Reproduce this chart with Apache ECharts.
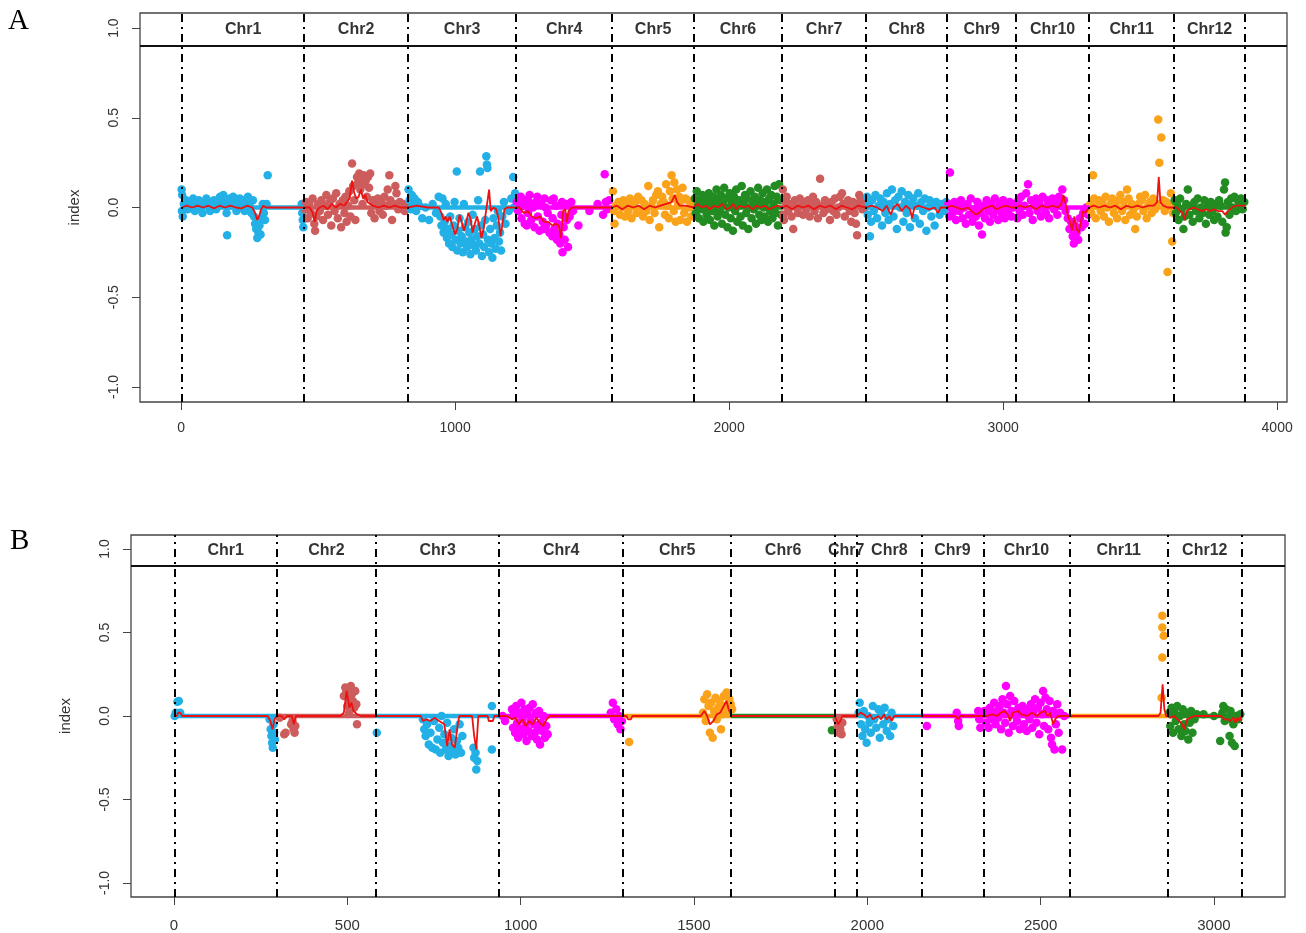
<!DOCTYPE html>
<html><head><meta charset="utf-8">
<script src="https://cdn.jsdelivr.net/npm/echarts@6/dist/echarts.min.js"></script>
<style>html,body{margin:0;padding:0;background:#fff}#c{width:1306px;height:933px}</style>
</head><body><div id="c"></div>
<script>
const chrNames = ['Chr1','Chr2','Chr3','Chr4','Chr5','Chr6','Chr7','Chr8','Chr9','Chr10','Chr11','Chr12'];
const chrColors = ['#22B0E6','#CD5C5C','#22B0E6','#FF00FF','#FAA21A','#228B22','#CD5C5C','#22B0E6','#FF00FF','#FF00FF','#FAA21A','#228B22'];
const boundsA = [4,449,828,1223,1573,1872,2193,2500,2796,3047,3314,3624,3883];
const boundsB = [1,297,583,938,1296,1607,1907,1971,2156,2335,2583,2868,3079];
const xTicksA = [0,1000,2000,3000,4000];
const xTicksB = [0,500,1000,1500,2000,2500,3000];
const yTicks = [-1,-0.5,0,0.5,1];
const headerLevel = 0.9;
const labelLevel = 0.99;

// ---------- Panel A points ----------
const ptsA1 = [[2,0.10],[4,0.07],[3,-0.02],[6,-0.05],[10,0.02],[18,0.04],[24,-0.01],[30,0.03],[38,0.01],[44,0.05],[50,-0.02],[58,0.03],[64,0.04],[70,0.0],[78,-0.03],[84,0.02],[92,0.05],[98,0.01],[106,-0.02],[112,0.03],[120,0.04],[128,-0.01],[134,0.02],[142,0.06],[148,0.04],[154,0.07],[160,0.02],[166,-0.03],[168,-0.155],[172,0.03],[178,0.05],[184,0.01],[190,0.06],[196,0.02],[202,-0.02],[208,0.03],[214,0.05],[220,0.0],[226,0.04],[232,-0.02],[238,0.02],[244,0.06],[250,0.01],[256,-0.03],[262,0.04],[266,-0.05],[270,-0.09],[274,-0.12],[278,-0.17],[282,-0.14],[286,-0.1],[290,-0.15],[294,-0.06],[298,0.02],[302,-0.03],[306,-0.07],[312,0.02],[316,0.18],[440,0.02],[442,-0.03],[444,-0.07],[446,-0.11]];
const ptsA2 = [[452,-0.01],[456,0.03],[462,-0.06],[468,0.02],[474,-0.03],[480,0.05],[486,-0.09],[489,-0.13],[494,-0.05],[500,0.02],[506,-0.02],[512,0.04],[518,-0.07],[524,0.01],[530,0.07],[536,-0.04],[542,0.03],[548,-0.1],[554,0.05],[560,-0.02],[566,0.08],[572,-0.06],[578,0.02],[584,-0.11],[590,0.04],[596,-0.03],[600,0.06],[604,-0.08],[610,0.01],[614,0.09],[618,-0.05],[624,0.245],[628,0.12],[632,0.04],[636,-0.07],[642,0.17],[646,0.14],[650,0.19],[654,0.1],[658,0.16],[662,0.02],[666,0.18],[670,0.13],[674,0.15],[678,0.06],[682,0.17],[686,0.11],[690,0.19],[694,-0.03],[700,0.04],[706,-0.06],[712,0.02],[718,0.05],[724,-0.02],[730,0.03],[736,-0.04],[742,0.06],[748,0.01],[754,0.1],[760,0.18],[764,0.04],[770,-0.07],[776,0.02],[782,0.12],[786,0.08],[792,-0.01],[798,0.03],[804,0.0],[810,0.02],[816,-0.02],[822,0.01]];
const ptsA3 = [[830,0.1],[834,0.04],[838,-0.01],[842,0.07],[846,0.02],[852,0.05],[858,-0.02],[864,0.03],[870,0.01],[880,-0.06],[892,0.0],[905,-0.07],[918,0.02],[930,-0.03],[940,0.06],[946,-0.05],[950,-0.1],[954,0.05],[958,-0.14],[962,-0.08],[966,0.02],[970,-0.17],[974,-0.12],[978,-0.2],[982,-0.05],[986,-0.15],[990,-0.22],[994,-0.1],[998,0.03],[1002,-0.18],[1006,0.2],[1008,-0.24],[1012,-0.13],[1016,-0.06],[1020,-0.2],[1024,-0.16],[1028,-0.25],[1032,0.02],[1036,-0.11],[1040,-0.19],[1044,-0.22],[1048,-0.08],[1052,-0.14],[1056,-0.26],[1060,-0.18],[1064,-0.04],[1068,-0.21],[1072,-0.12],[1076,-0.24],[1080,-0.16],[1084,0.04],[1088,-0.2],[1091,0.2],[1094,-0.1],[1098,-0.27],[1102,-0.15],[1106,-0.22],[1110,-0.07],[1114,0.285],[1116,0.24],[1118,0.22],[1120,-0.18],[1124,-0.25],[1128,-0.12],[1132,-0.2],[1136,-0.28],[1140,-0.06],[1144,-0.17],[1148,-0.23],[1152,-0.1],[1156,-0.02],[1160,-0.19],[1164,-0.14],[1168,-0.24],[1172,-0.05],[1178,0.03],[1184,-0.09],[1196,-0.02],[1205,0.05],[1212,0.17],[1215,0.0],[1219,0.08]];
const ptsA4 = [[1225,0.03],[1230,-0.02],[1236,0.05],[1240,0.06],[1242,-0.06],[1248,0.01],[1254,-0.09],[1260,0.04],[1262,-0.1],[1266,-0.03],[1270,0.03],[1272,0.07],[1278,-0.07],[1284,0.0],[1290,-0.11],[1296,0.03],[1300,0.06],[1302,-0.05],[1308,-0.13],[1314,0.02],[1320,-0.08],[1322,-0.12],[1326,0.05],[1330,0.0],[1332,-0.1],[1338,-0.03],[1344,-0.14],[1350,0.04],[1355,-0.16],[1356,-0.06],[1360,0.05],[1362,-0.12],[1368,0.01],[1372,-0.18],[1374,-0.09],[1380,-0.15],[1384,-0.2],[1388,-0.04],[1390,0.03],[1392,-0.25],[1396,-0.11],[1400,-0.18],[1404,0.02],[1408,-0.07],[1412,-0.22],[1418,-0.05],[1424,0.03],[1430,-0.02],[1450,-0.1],[1490,-0.02],[1520,0.02],[1540,-0.04],[1546,0.185],[1550,0.03],[1555,-0.01],[1562,0.04]];
const ptsA5 = [[1576,0.09],[1580,-0.02],[1582,-0.09],[1586,0.01],[1596,0.03],[1602,-0.04],[1608,0.0],[1614,0.04],[1620,-0.05],[1626,0.02],[1632,-0.02],[1638,0.05],[1644,-0.06],[1650,0.01],[1656,0.03],[1662,-0.03],[1668,0.06],[1674,-0.01],[1680,0.04],[1686,-0.05],[1692,0.02],[1698,-0.02],[1705,0.12],[1710,-0.07],[1716,0.01],[1722,0.04],[1728,-0.03],[1734,0.07],[1740,0.09],[1745,-0.11],[1750,0.02],[1756,0.06],[1762,0.03],[1766,-0.04],[1770,0.13],[1776,0.01],[1780,-0.06],[1784,0.09],[1790,0.18],[1794,0.05],[1798,-0.02],[1800,0.14],[1805,-0.08],[1810,0.1],[1814,0.02],[1818,0.06],[1822,-0.07],[1826,0.04],[1830,0.11],[1836,-0.03],[1840,0.05],[1846,-0.08],[1850,0.04],[1856,0.0],[1862,-0.05],[1868,0.02]];
const ptsA6 = [[1875,0.05],[1878,-0.03],[1882,0.09],[1886,0.01],[1890,-0.06],[1894,0.04],[1898,-0.01],[1902,0.07],[1906,-0.08],[1910,0.02],[1914,0.05],[1918,-0.04],[1922,0.0],[1926,0.08],[1930,-0.07],[1934,0.03],[1938,-0.02],[1942,0.06],[1946,-0.1],[1950,0.01],[1954,0.1],[1958,-0.05],[1962,0.04],[1966,-0.02],[1970,0.07],[1974,-0.09],[1978,0.02],[1982,0.11],[1986,-0.04],[1990,0.05],[1994,-0.11],[1998,0.0],[2002,0.08],[2006,-0.06],[2010,0.03],[2014,-0.13],[2018,0.06],[2022,-0.02],[2026,0.1],[2030,-0.08],[2034,0.01],[2038,0.04],[2042,-0.05],[2046,0.12],[2050,-0.1],[2054,0.02],[2058,0.07],[2062,-0.03],[2066,0.05],[2070,-0.12],[2074,0.0],[2078,0.09],[2082,-0.06],[2086,0.03],[2090,-0.01],[2094,0.06],[2098,-0.09],[2102,0.02],[2106,0.11],[2110,-0.04],[2114,0.04],[2118,-0.07],[2122,0.08],[2126,0.0],[2130,-0.05],[2134,0.03],[2138,0.1],[2142,-0.08],[2146,0.05],[2150,-0.02],[2154,0.07],[2158,-0.06],[2162,0.02],[2166,0.12],[2170,-0.03],[2174,0.06],[2178,-0.1],[2182,0.13],[2186,0.04],[2190,-0.04]];
const ptsA7 = [[2196,0.1],[2198,-0.04],[2200,-0.07],[2204,0.03],[2210,0.06],[2216,-0.02],[2222,0.02],[2228,-0.05],[2234,-0.12],[2240,0.04],[2246,0.0],[2252,-0.03],[2258,0.05],[2264,0.01],[2270,-0.04],[2276,0.03],[2282,-0.01],[2288,0.04],[2294,-0.05],[2300,0.02],[2306,0.06],[2312,-0.02],[2318,0.03],[2324,-0.06],[2332,0.16],[2338,0.01],[2344,-0.03],[2350,0.04],[2356,-0.01],[2362,0.02],[2368,-0.07],[2374,0.03],[2380,-0.02],[2386,0.05],[2392,-0.04],[2398,0.0],[2404,0.06],[2412,0.08],[2416,0.02],[2422,-0.05],[2428,0.01],[2434,0.04],[2440,-0.02],[2446,-0.08],[2452,0.03],[2458,-0.03],[2463,-0.09],[2467,-0.155],[2470,0.02],[2475,0.07],[2480,0.05],[2486,-0.01],[2492,0.04],[2496,0.0]];
const ptsA8 = [[2503,0.06],[2506,-0.04],[2510,0.02],[2514,-0.16],[2518,-0.08],[2522,0.04],[2528,-0.02],[2534,0.07],[2540,-0.06],[2546,0.01],[2552,0.05],[2558,-0.1],[2564,0.03],[2570,-0.03],[2576,0.08],[2582,-0.07],[2588,0.02],[2594,0.1],[2600,-0.05],[2606,0.04],[2612,-0.12],[2618,0.06],[2624,0.0],[2630,0.09],[2636,-0.08],[2642,0.03],[2648,-0.03],[2654,0.07],[2660,-0.11],[2666,0.02],[2672,0.05],[2678,-0.06],[2684,0.01],[2690,0.08],[2696,-0.09],[2702,0.03],[2708,-0.02],[2714,0.05],[2720,-0.13],[2726,0.0],[2732,0.04],[2738,-0.05],[2744,0.02],[2750,-0.1],[2756,0.03],[2762,0.01],[2768,-0.04],[2774,0.02],[2780,0.0],[2786,-0.02],[2792,0.03]];
const ptsA9 = [[2800,0.02],[2804,-0.05],[2806,0.195],[2810,0.0],[2816,-0.03],[2822,0.03],[2828,-0.07],[2834,0.01],[2840,-0.02],[2846,0.04],[2852,-0.06],[2858,0.0],[2864,-0.09],[2870,0.02],[2876,-0.04],[2882,0.05],[2888,-0.08],[2894,-0.01],[2900,-0.05],[2906,0.03],[2912,-0.1],[2918,-0.03],[2923,-0.15],[2928,0.01],[2934,-0.06],[2940,0.04],[2946,-0.02],[2952,-0.08],[2958,0.02],[2964,-0.04],[2970,0.05],[2976,-0.01],[2982,-0.07],[2988,0.02],[2994,-0.03],[3000,0.04],[3006,-0.06],[3012,0.01],[3018,-0.02],[3024,0.03],[3030,-0.05],[3036,0.0],[3042,0.02]];
const ptsA10 = [[3050,0.02],[3052,-0.06],[3056,0.04],[3060,-0.02],[3066,0.06],[3072,-0.04],[3078,0.01],[3084,0.08],[3091,0.13],[3096,-0.03],[3102,0.04],[3108,-0.07],[3114,0.02],[3120,0.05],[3126,-0.02],[3132,0.03],[3138,-0.05],[3144,0.06],[3150,0.0],[3156,-0.03],[3162,0.04],[3168,-0.06],[3174,0.02],[3180,0.05],[3186,-0.01],[3192,0.03],[3198,-0.04],[3204,0.06],[3210,0.01],[3216,0.1],[3222,0.04],[3228,-0.02],[3236,-0.06],[3242,-0.12],[3248,-0.08],[3254,-0.16],[3258,-0.2],[3262,-0.1],[3268,-0.14],[3274,-0.18],[3280,-0.06],[3286,-0.11],[3292,-0.03],[3298,-0.09],[3304,0.0],[3310,-0.04]];
const ptsA11 = [[3318,0.02],[3322,-0.03],[3328,0.18],[3332,0.05],[3338,-0.06],[3344,0.01],[3350,0.04],[3356,-0.02],[3362,0.03],[3368,-0.05],[3374,0.06],[3380,0.0],[3386,-0.08],[3392,0.02],[3398,0.05],[3404,-0.03],[3410,0.01],[3416,-0.06],[3422,0.04],[3428,0.07],[3434,-0.02],[3440,0.03],[3446,-0.07],[3452,0.1],[3458,0.05],[3464,-0.04],[3470,0.02],[3476,-0.01],[3482,-0.12],[3488,-0.05],[3494,0.02],[3500,0.06],[3506,0.04],[3512,-0.02],[3518,0.07],[3524,-0.06],[3530,0.01],[3536,0.03],[3542,-0.03],[3548,0.05],[3554,-0.01],[3560,0.02],[3566,0.49],[3570,0.25],[3577,0.39],[3584,0.04],[3590,-0.02],[3596,0.03],[3600,-0.36],[3606,0.01],[3612,0.08],[3617,-0.19],[3620,-0.03]];
const ptsA12 = [[3626,0.04],[3630,-0.03],[3634,0.02],[3640,-0.07],[3646,0.05],[3652,-0.01],[3658,-0.12],[3662,-0.05],[3668,0.02],[3674,0.1],[3680,-0.04],[3686,0.01],[3692,-0.08],[3698,0.03],[3704,-0.02],[3710,0.05],[3716,-0.06],[3722,0.0],[3728,-0.03],[3734,0.04],[3740,-0.09],[3746,0.01],[3752,-0.04],[3758,0.03],[3764,-0.02],[3770,-0.07],[3776,0.02],[3782,-0.05],[3788,0.04],[3794,0.01],[3800,-0.08],[3806,0.1],[3810,0.14],[3812,-0.14],[3816,-0.11],[3820,0.03],[3826,-0.04],[3832,0.05],[3838,0.0],[3844,0.06],[3850,-0.02],[3856,0.04],[3862,0.02],[3868,0.05],[3874,-0.01],[3880,0.03]];

// ---------- Panel A smoothed (red) lines ----------
const redA1 = [[4,0.0],[20,0.01],[40,0.0],[60,0.01],[80,0.0],[100,0.01],[120,-0.005],[140,0.01],[160,0.0],[180,0.01],[200,0.0],[220,-0.005],[240,0.01],[260,0.0],[270,-0.03],[278,-0.07],[284,-0.05],[292,-0.01],[300,0.01],[310,0.0],[449,0.0]];
const redA2 = [[449,0],[470,0.0],[480,-0.03],[488,-0.08],[494,-0.02],[505,0.0],[520,0.01],[535,-0.01],[550,0.02],[565,0.0],[580,0.02],[595,0.01],[605,0.03],[615,0.05],[624,0.15],[632,0.08],[640,0.05],[648,0.06],[656,0.1],[664,0.05],[672,0.07],[680,0.03],[690,0.02],[700,0.01],[720,0.0],[740,0.01],[760,0.0],[780,0.01],[800,0.0],[828,0.0]];
const redA3 = [[828,0],[860,0.01],[900,0.0],[940,0.0],[950,-0.03],[958,-0.07],[965,-0.05],[972,-0.08],[980,-0.05],[990,-0.1],[1000,-0.15],[1008,-0.12],[1016,-0.04],[1024,-0.08],[1032,-0.13],[1040,-0.09],[1048,-0.03],[1056,-0.06],[1064,-0.14],[1072,-0.09],[1080,-0.05],[1088,-0.1],[1096,-0.17],[1104,-0.12],[1112,-0.03],[1124,0.1],[1130,-0.02],[1140,0.0],[1150,-0.01],[1158,-0.06],[1166,-0.16],[1172,-0.1],[1180,-0.01],[1190,0.0],[1223,0.0]];
const redA4 = [[1223,0],[1235,0.0],[1250,-0.03],[1265,-0.02],[1280,-0.05],[1295,-0.06],[1310,-0.05],[1325,-0.08],[1340,-0.08],[1355,-0.1],[1368,-0.09],[1378,-0.1],[1386,-0.17],[1394,-0.02],[1402,-0.01],[1408,-0.08],[1414,-0.02],[1425,0.0],[1450,0.0],[1500,0.0],[1540,0.0],[1573,0.0]];
const redA5 = [[1573,0],[1590,0.01],[1610,-0.01],[1630,0.01],[1650,0.0],[1670,0.01],[1690,-0.01],[1710,0.01],[1730,0.0],[1750,0.01],[1770,0.02],[1790,0.03],[1802,0.07],[1810,0.03],[1820,0.01],[1840,0.01],[1872,0.0]];
const redA6 = [[1872,0],[1885,0.02],[1900,0.0],[1915,0.01],[1930,-0.01],[1945,0.01],[1960,0.0],[1975,0.02],[1990,-0.01],[2005,0.0],[2015,0.02],[2025,-0.01],[2040,0.01],[2055,0.0],[2070,0.01],[2085,-0.01],[2100,0.01],[2115,0.0],[2130,0.01],[2145,-0.01],[2160,0.0],[2175,0.01],[2193,0.0]];
const redA7 = [[2193,0],[2210,0.01],[2230,-0.01],[2250,0.01],[2270,0.0],[2290,0.01],[2310,-0.01],[2330,0.01],[2350,0.0],[2370,0.01],[2390,-0.01],[2410,0.01],[2430,0.0],[2450,-0.01],[2470,0.01],[2500,0.0]];
const redA8 = [[2500,0],[2520,0.01],[2540,0.0],[2560,-0.02],[2575,0.01],[2590,-0.04],[2600,0.0],[2615,0.02],[2630,-0.02],[2645,0.01],[2660,-0.01],[2668,-0.06],[2676,0.0],[2690,0.01],[2710,0.0],[2730,-0.01],[2750,0.0],[2762,-0.03],[2772,0.0],[2796,0.0]];
const redA9 = [[2796,0],[2810,0.01],[2830,0.0],[2850,-0.01],[2870,0.0],[2885,-0.02],[2900,-0.04],[2912,-0.03],[2925,-0.01],[2940,0.0],[2960,0.01],[2975,-0.01],[2990,0.0],[3010,0.01],[3030,0.0],[3047,0.0]];
const redA10 = [[3047,0],[3060,0.01],[3080,0.0],[3100,0.01],[3120,-0.01],[3140,0.01],[3160,0.0],[3180,0.01],[3200,0.0],[3212,0.02],[3220,0.07],[3228,0.02],[3236,-0.04],[3244,-0.08],[3252,-0.13],[3260,-0.05],[3268,-0.12],[3276,-0.14],[3284,-0.08],[3292,-0.02],[3300,-0.03],[3314,0.0]];
const redA11 = [[3314,0],[3330,0.01],[3350,0.0],[3370,0.01],[3390,0.0],[3410,0.01],[3430,-0.01],[3450,0.01],[3470,0.0],[3490,0.01],[3510,0.0],[3530,0.01],[3550,0.01],[3562,0.03],[3568,0.17],[3574,0.03],[3584,0.01],[3600,0.0],[3624,0.0]];
const redA12 = [[3624,0],[3635,0.0],[3645,-0.02],[3655,-0.03],[3662,-0.07],[3670,-0.02],[3680,-0.01],[3695,0.0],[3710,-0.01],[3725,-0.02],[3740,-0.01],[3755,-0.02],[3770,-0.01],[3785,-0.02],[3800,-0.02],[3810,-0.04],[3820,-0.02],[3835,0.0],[3850,0.01],[3865,0.01],[3883,0.01]];

// ---------- Panel B points ----------
const ptsB1 = [[2,0.0],[5,0.02],[10,0.085],[14,0.09],[18,0.02],[276,-0.02],[279,-0.08],[281,-0.12],[283,-0.16],[285,-0.19],[287,-0.05],[289,-0.1],[291,-0.14]];
const ptsB2 = [[305,-0.01],[318,-0.11],[322,-0.1],[338,-0.05],[342,-0.03],[345,-0.08],[348,-0.1],[350,-0.06],[490,0.12],[494,0.17],[497,0.14],[500,0.06],[503,0.16],[505,0.02],[506,0.1],[510,0.18],[513,0.13],[516,0.09],[520,0.05],[523,0.15],[526,0.07],[528,-0.05]];
const ptsB3 = [[585,-0.1],[718,-0.02],[722,-0.08],[726,-0.12],[730,-0.05],[735,-0.17],[740,-0.1],[745,-0.19],[750,-0.03],[755,-0.2],[760,-0.14],[765,-0.07],[768,-0.22],[772,0.0],[776,-0.16],[780,-0.11],[784,-0.2],[788,-0.04],[792,-0.24],[796,-0.18],[800,-0.13],[804,-0.21],[808,-0.08],[812,-0.23],[816,-0.15],[820,-0.19],[824,-0.05],[828,-0.22],[832,-0.12],[864,-0.19],[866,-0.25],[870,-0.22],[872,-0.32],[875,-0.27],[917,0.06],[917,-0.2]];
const ptsB4 = [[948,0.0],[955,-0.03],[975,0.04],[978,-0.07],[981,0.01],[984,-0.1],[987,0.06],[990,-0.04],[993,-0.13],[996,0.02],[999,-0.08],[1002,0.08],[1005,-0.02],[1008,-0.11],[1011,0.04],[1014,-0.06],[1017,-0.15],[1020,0.01],[1023,-0.09],[1026,0.05],[1029,-0.03],[1032,-0.12],[1035,0.07],[1038,-0.05],[1041,-0.1],[1044,0.02],[1047,-0.14],[1050,-0.07],[1053,0.03],[1056,-0.17],[1059,-0.04],[1062,-0.09],[1066,0.0],[1070,-0.13],[1074,-0.06],[1078,-0.11],[1260,0.02],[1266,0.08],[1270,-0.02],[1276,0.04],[1280,-0.05],[1284,0.0],[1288,-0.08],[1292,-0.03]];
const ptsB5 = [[1313,-0.155],[1526,0.02],[1530,0.1],[1534,-0.03],[1538,0.13],[1542,0.06],[1546,-0.1],[1550,0.08],[1554,-0.13],[1558,0.03],[1562,0.11],[1566,-0.02],[1570,0.05],[1574,0.09],[1578,-0.08],[1582,0.01],[1586,0.12],[1590,0.06],[1594,0.14],[1598,0.03],[1602,0.1],[1606,0.07],[1610,0.04]];
const ptsB6 = [[1898,-0.085]];
const ptsB7 = [[1912,-0.02],[1915,-0.06],[1918,-0.1],[1922,-0.08],[1926,-0.11],[1928,-0.04]];
const ptsB8 = [[1975,0.02],[1978,0.08],[1982,-0.05],[1986,-0.12],[1990,0.03],[1994,-0.08],[1998,-0.16],[2002,0.0],[2006,-0.04],[2010,-0.1],[2016,0.06],[2020,-0.02],[2026,-0.07],[2032,0.04],[2036,-0.13],[2040,0.01],[2046,-0.05],[2050,0.05],[2056,-0.09],[2060,-0.02],[2066,-0.12],[2070,0.02],[2075,-0.06]];
const ptsB9 = [[2172,-0.06],[2258,0.02],[2262,-0.03],[2264,-0.06],[2320,0.03],[2323,-0.02],[2326,-0.07],[2330,0.01]];
const ptsB10 = [[2338,0.03],[2342,-0.04],[2346,0.01],[2350,-0.07],[2354,0.05],[2358,-0.02],[2362,0.02],[2366,0.08],[2370,-0.05],[2374,0.03],[2378,-0.01],[2382,0.06],[2386,-0.08],[2390,0.1],[2394,0.02],[2398,-0.04],[2400,0.18],[2404,0.07],[2408,-0.1],[2412,0.12],[2416,0.03],[2420,-0.06],[2424,0.09],[2428,0.0],[2432,-0.03],[2436,0.05],[2440,-0.08],[2444,0.02],[2448,0.06],[2452,-0.05],[2456,0.01],[2460,-0.09],[2464,0.04],[2468,-0.02],[2472,0.07],[2476,-0.07],[2480,0.03],[2484,0.1],[2488,-0.04],[2492,0.05],[2496,-0.11],[2500,0.08],[2504,0.01],[2507,0.15],[2510,-0.06],[2514,0.11],[2518,0.04],[2522,-0.08],[2526,0.09],[2530,-0.13],[2533,-0.17],[2536,0.03],[2540,-0.2],[2544,-0.05],[2548,0.07],[2552,-0.1],[2556,0.02],[2562,-0.2],[2568,0.0]];
const ptsB11 = [[2851,0.6],[2851,0.53],[2855,0.48],[2851,0.35],[2849,0.11]];
const ptsB12 = [[2871,0.02],[2874,-0.06],[2878,0.05],[2882,-0.1],[2886,0.03],[2890,-0.03],[2894,0.06],[2898,-0.08],[2902,0.0],[2906,-0.12],[2910,0.04],[2914,-0.05],[2918,-0.09],[2922,0.02],[2926,-0.14],[2930,-0.04],[2934,0.03],[2938,-0.1],[2944,-0.02],[2950,0.01],[2970,0.01],[3000,0.0],[3018,-0.15],[3024,0.02],[3027,0.06],[3031,-0.03],[3035,0.04],[3040,-0.02],[3045,-0.12],[3048,0.03],[3052,-0.16],[3056,-0.05],[3060,-0.18],[3064,0.0],[3070,-0.02],[3076,0.01]];

// ---------- Panel B smoothed (red) lines ----------
const redB1 = [[1,0],[8,0.0],[12,0.02],[18,0.02],[24,0.0],[270,0.0],[278,-0.03],[284,-0.08],[290,-0.02],[297,0.0]];
const redB2 = [[297,0],[310,0.0],[318,-0.02],[326,0.0],[340,0.0],[346,-0.05],[352,0.0],[480,0.0],[490,0.02],[498,0.15],[506,0.05],[512,0.08],[518,0.03],[528,0.01],[540,0.0],[583,0.0]];
const redB3 = [[583,0],[712,0.0],[718,-0.03],[728,-0.02],[740,-0.03],[752,-0.01],[765,-0.03],[780,-0.05],[788,-0.18],[795,-0.08],[802,-0.17],[810,-0.19],[818,-0.06],[823,0.0],[860,0.0],[866,-0.12],[872,-0.2],[878,0.0],[905,0.0],[908,-0.03],[920,-0.03],[924,0.0],[938,0.0]];
const redB4 = [[938,0],[960,0.0],[975,-0.02],[985,-0.01],[995,-0.05],[1005,-0.02],[1015,-0.06],[1025,-0.03],[1035,-0.05],[1045,-0.01],[1055,-0.04],[1065,-0.06],[1075,-0.02],[1085,0.0],[1296,0.0]];
const redB5 = [[1296,0],[1305,0.0],[1310,-0.02],[1318,-0.02],[1322,0.0],[1520,0.0],[1530,0.03],[1538,0.0],[1546,-0.05],[1556,-0.03],[1566,0.01],[1576,0.02],[1586,0.06],[1594,0.09],[1600,0.04],[1607,0.01]];
const redB6 = [[1607,0],[1907,0.0]];
const redB7 = [[1907,0],[1912,0.0],[1916,-0.05],[1922,-0.03],[1928,0.0],[1971,0.0]];
const redB8 = [[1971,0],[1980,0.02],[1990,0.01],[2000,-0.01],[2008,0.01],[2016,-0.02],[2024,-0.01],[2032,0.0],[2040,-0.02],[2048,0.01],[2056,-0.02],[2064,0.0],[2070,-0.03],[2078,0.0],[2156,0.0]];
const redB9 = [[2156,0],[2255,0.0],[2262,-0.02],[2268,0.0],[2335,0.0]];
const redB10 = [[2335,0],[2345,0.0],[2360,0.01],[2375,0.0],[2385,0.02],[2395,0.03],[2405,0.01],[2412,-0.03],[2420,0.02],[2435,0.03],[2445,0.01],[2460,0.0],[2475,0.02],[2490,0.0],[2500,0.02],[2512,0.03],[2520,0.0],[2528,0.02],[2536,-0.05],[2542,-0.02],[2550,0.0],[2583,0.0]];
const redB11 = [[2583,0],[2840,0.0],[2846,0.02],[2852,0.19],[2857,0.04],[2862,0.0],[2868,0.0]];
const redB12 = [[2868,0],[2875,-0.01],[2885,0.0],[2895,-0.02],[2905,-0.04],[2915,-0.08],[2922,-0.02],[2932,-0.01],[2945,0.0],[2980,0.0],[3020,0.0],[3030,-0.02],[3040,-0.02],[3048,-0.03],[3056,-0.01],[3062,-0.04],[3068,-0.01],[3074,-0.03],[3079,0.0]];

const ptsA = [ptsA1,ptsA2,ptsA3,ptsA4,ptsA5,ptsA6,ptsA7,ptsA8,ptsA9,ptsA10,ptsA11,ptsA12];
const redA = [redA1,redA2,redA3,redA4,redA5,redA6,redA7,redA8,redA9,redA10,redA11,redA12];
const ptsB = [ptsB1,ptsB2,ptsB3,ptsB4,ptsB5,ptsB6,ptsB7,ptsB8,ptsB9,ptsB10,ptsB11,ptsB12];
const redB = [redB1,redB2,redB3,redB4,redB5,redB6,redB7,redB8,redB9,redB10,redB11,redB12];

const FONT = '"Liberation Sans", Arial, sans-serif';
const RED = '#EE1111';

function panelSeries(ax, bounds, pts, reds) {
  const s = [];
  for (let i = 0; i < 12; i++) {
    s.push({type:'scatter', xAxisIndex:ax, yAxisIndex:ax, data:pts[i], symbolSize:8.5,
      itemStyle:{color:chrColors[i], opacity:1}, silent:true, z:2});
  }
  for (let i = 0; i < 12; i++) {
    s.push({type:'line', xAxisIndex:ax, yAxisIndex:ax, data:[[bounds[i],0],[bounds[i+1],0]],
      showSymbol:false, silent:true, lineStyle:{color:chrColors[i], width:4.5}, z:3});
  }
  for (let i = 0; i < 12; i++) {
    s.push({type:'line', xAxisIndex:ax, yAxisIndex:ax, data:reds[i], showSymbol:false, silent:true,
      lineStyle:{color:RED, width:1.8}, z:4});
  }
  s.push({type:'line', xAxisIndex:ax, yAxisIndex:ax, data:[[bounds[0],0]], showSymbol:false, silent:true,
    lineStyle:{width:0}, z:6,
    markLine:{silent:true, symbol:'none', animation:false, label:{show:false},
      data: bounds.map(b => ({xAxis:b, lineStyle:{type:[8,5,2,5], width:2, color:'#000'}}))
        .concat([{yAxis:headerLevel, lineStyle:{type:'solid', width:2, color:'#111'}}])}});
  s.push({type:'scatter', xAxisIndex:ax, yAxisIndex:ax, symbolSize:1, silent:true, z:7,
    itemStyle:{color:'rgba(0,0,0,0)'},
    data: chrNames.map((n,i) => ({name:n, value:[(bounds[i]+bounds[i+1])/2, labelLevel]})),
    label:{show:true, position:'inside', formatter:'{b}', fontFamily:FONT, fontWeight:'bold', fontSize:16, color:'#000'}});
  return s;
}

function xAxisCfg(grid, min, max, ticks, fs, mg) {
  return {type:'value', gridIndex:grid, min:min, max:max, splitLine:{show:false},
    axisLine:{show:false, onZero:false},
    axisTick:{show:true, length:8, inside:false, customValues:ticks, lineStyle:{color:'#444', width:1}},
    axisLabel:{show:true, customValues:ticks, margin:mg, fontFamily:FONT, fontSize:fs, color:'#333',
      formatter: v => String(v)}};
}
function yAxisCfg(grid) {
  return {type:'value', gridIndex:grid, min:-1.084, max:1.084, splitLine:{show:false},
    axisLine:{show:false, onZero:false},
    name:'index', nameLocation:'middle', nameRotate:90, nameGap:58,
    nameTextStyle:{fontFamily:FONT, fontSize:15, color:'#333'},
    axisTick:{show:true, length:8, customValues:yTicks, lineStyle:{color:'#444', width:1}},
    axisLabel:{show:true, customValues:yTicks, rotate:90, margin:19, fontFamily:FONT, fontSize:14, color:'#333',
      formatter: v => v.toFixed(1)}};
}

const chart = echarts.init(document.getElementById('c'), null, {renderer:'canvas'});
chart.setOption({
  animation:false,
  backgroundColor:'#fff',
  grid:[
    {left:140, top:13, width:1147, height:389, show:true, borderColor:'#444', borderWidth:1.3, backgroundColor:'transparent'},
    {left:131, top:535, width:1154, height:362, show:true, borderColor:'#444', borderWidth:1.3, backgroundColor:'transparent'}
  ],
  xAxis:[xAxisCfg(0,-150,4036,xTicksA,14,19), xAxisCfg(1,-124,3205,xTicksB,15,21)],
  yAxis:[yAxisCfg(0), yAxisCfg(1)],
  graphic:[
    {type:'text', left:8, top:7, style:{text:'A', font:'29px "Liberation Serif", "Times New Roman", serif', fill:'#000'}},
    {type:'text', left:10, top:527, style:{text:'B', font:'29px "Liberation Serif", "Times New Roman", serif', fill:'#000'}}
  ],
  series: panelSeries(0, boundsA, ptsA, redA).concat(panelSeries(1, boundsB, ptsB, redB))
});
</script></body></html>
